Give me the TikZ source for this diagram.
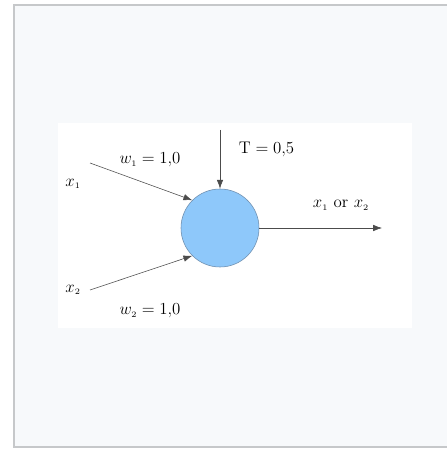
\documentclass[tikz,border=0pt]{standalone}
\usepackage{tikz}
\usetikzlibrary{arrows.meta}
\usepackage{xcolor}

\definecolor{fondo}{HTML}{F7F9FB}
\definecolor{marco}{HTML}{C6C8CA}
\definecolor{celeste}{HTML}{8EC8FA}
\definecolor{bordeneurona}{HTML}{6F8FAF}

\begin{document}
\begin{tikzpicture}[x=0.25mm, y=-0.25mm, >={Latex[length=2.2mm, width=1.6mm]},
        flecha/.style={->, thin, color=black!70},
        etiq/.style={font=\fontsize{12}{14}\selectfont, text=black}]
        \useasboundingbox (0,0) rectangle (447,449);

        % Fondo y marco
        \fill[fondo] (14,5) rectangle (447,447);
        \draw[marco, line width=1.2pt] (447,5) -- (14,5) -- (14,447) -- (447,447);
        \fill[white] (58,123) rectangle (412,328);

        % Neurona
        \node[circle, draw=bordeneurona, fill=celeste, minimum size=19.5mm, inner sep=0pt] (n) at (220,228) {};

        % Entradas
        \node[etiq] (x1) at (73,184) {$x_{\scriptscriptstyle 1}$};
        \node[etiq] (x2) at (73,290) {$x_{\scriptscriptstyle 2}$};
        \coordinate (x1a) at (90,163);
        \coordinate (x2a) at (90,290);
        \draw[flecha] (x1a) -- (n.135);
        \draw[flecha] (x2a) -- (n.225);
        \node[etiq] (w1) at (150,160) {$w_{\scriptscriptstyle 1} = 1{,}0$};
        \node[etiq] (w2) at (150,311) {$w_{\scriptscriptstyle 2} = 1{,}0$};

        % Umbral
        \coordinate (t) at (220,130);
        \draw[flecha] (t) -- (n.north);
        \node[etiq, anchor=west] (umbral) at (234,149) {$\mathrm{T} = 0{,}5$};

        % Salida
        \coordinate (s) at (382,228);
        \draw[flecha] (n.east) -- (s);
        \node[etiq] (sal) at (341,205) {$x_{\scriptscriptstyle 1}$ or $x_{\scriptscriptstyle 2}$};

    \end{tikzpicture}
\end{document}
